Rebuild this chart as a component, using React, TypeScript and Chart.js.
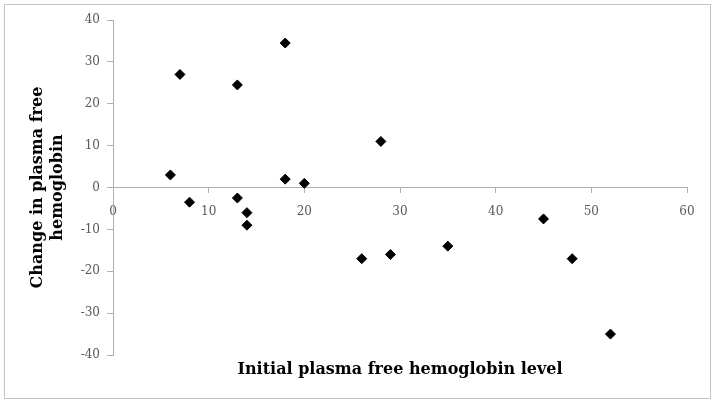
import React, { useEffect, useRef } from "react";
import { Chart, registerables } from "chart.js";

Chart.register(...registerables);

const initialLevel = [6, 7, 8, 13, 13, 14, 14, 18, 18, 20, 26, 28, 29, 35, 45, 48, 52];
const changeLevel = [3, 27, -3.5, 24.5, -2.5, -6, -9, 34.5, 2, 1, -17, 11, -16, -14, -7.5, -17, -35];
const xTicks = [0, 10, 20, 30, 40, 50, 60];
const yTicks = [-40, -30, -20, -10, 0, 10, 20, 30, 40];

const xTitle = "Initial plasma free hemoglobin level";
const yTitle = ["Change in plasma free", "hemoglobin"];

export default function App() {
  const ref = useRef<HTMLCanvasElement | null>(null);

  useEffect(() => {
    document.body.style.margin = "0";
    const canvas = ref.current;
    if (!canvas) return;
    const points = initialLevel.map((x, i) => ({ x, y: changeLevel[i] }));
    const tickFont = { family: "'DejaVu Serif', serif", size: 12 };
    const titleFont = { family: "'DejaVu Serif', serif", size: 16, weight: "bold" as const, lineHeight: 1.25 };
    const chart = new Chart(canvas, {
      type: "scatter",
      data: {
        datasets: [
          {
            data: points,
            pointStyle: "rectRot",
            pointRadius: 5,
            pointHoverRadius: 5,
            backgroundColor: "#000",
            borderColor: "#000",
            borderWidth: 1,
          },
        ],
      },
      options: {
        animation: false,
        responsive: false,
        maintainAspectRatio: false,
        layout: { padding: { top: 20, right: 27, bottom: 22, left: 0 } },
        plugins: {
          legend: { display: false },
          tooltip: { enabled: false },
          title: {
            display: true,
            position: "bottom",
            fullSize: false,
            text: xTitle,
            color: "#000",
            font: titleFont,
            padding: { top: 5, bottom: 0 },
          },
        },
        scales: {
          x: {
            type: "linear",
            min: 0,
            max: 60,
            position: { y: 0 },
            afterBuildTicks: (s: any) => {
              s.ticks = xTicks.map((v) => ({ value: v }));
            },
            ticks: { color: "#595959", font: tickFont, padding: 12, maxRotation: 0 },
            grid: { display: true, drawOnChartArea: false, drawTicks: true, tickLength: 5, color: "#b0b0b0" },
            border: { display: true, color: "#b0b0b0", width: 1 },
          },
          y: {
            type: "linear",
            min: -40,
            max: 40,
            afterBuildTicks: (s: any) => {
              s.ticks = yTicks.map((v) => ({ value: v }));
            },
            afterFit: (s: any) => {
              s.width = 113;
            },
            ticks: { color: "#595959", font: tickFont, padding: 7 },
            grid: { display: true, drawOnChartArea: false, drawTicks: true, tickLength: 6, color: "#b0b0b0" },
            border: { display: true, color: "#b0b0b0", width: 1 },
            title: {
              display: true,
              text: yTitle,
              color: "#000",
              font: titleFont,
              padding: { top: 28, bottom: 0 },
            },
          },
        },
      },
    });
    return () => chart.destroy();
  }, []);

  return (
    <div style={{ position: "relative", width: 714, height: 402, background: "#fff" }}>
      <canvas ref={ref} width={714} height={402} style={{ position: "absolute", left: 0, top: 0 }} />
      <div
        style={{
          position: "absolute",
          left: 4,
          top: 4,
          width: 705,
          height: 393,
          border: "1px solid #c4c4c4",
          pointerEvents: "none",
        }}
      />
    </div>
  );
}
